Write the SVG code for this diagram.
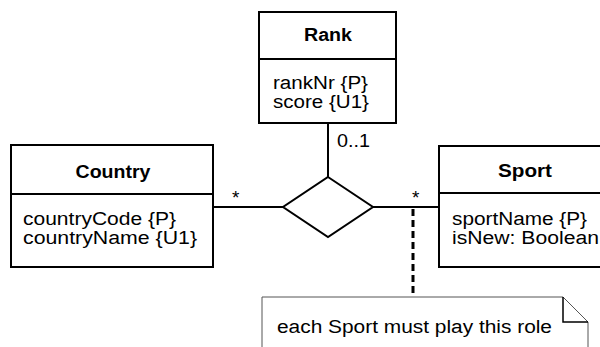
<svg xmlns="http://www.w3.org/2000/svg" width="600" height="347" viewBox="0 0 600 347">
<style>
.box{fill:#fff;stroke:#000;stroke-width:2}
.ln{stroke:#000;stroke-width:2;fill:none}
text{font-family:"Liberation Sans",Arial,sans-serif;font-size:18px;fill:#000}
.t{font-weight:bold;text-anchor:middle}
.m{font-size:19px}
</style>
<rect width="600" height="347" fill="#fff"/>
<g id="connectors">
<line class="ln" x1="328" y1="123" x2="328" y2="177"/>
<line class="ln" x1="213" y1="207" x2="283" y2="207"/>
<line class="ln" x1="373" y1="207" x2="439" y2="207"/>
<line x1="413" y1="209" x2="413" y2="297" stroke="#000" stroke-width="3" stroke-dasharray="7,4"/>
<text x="337" y="147" textLength="33" lengthAdjust="spacingAndGlyphs">0..1</text>
<text class="m" x="232" y="204">*</text>
<text class="m" x="412" y="204">*</text>
</g>
<g id="rank">
<rect class="box" x="259" y="12" width="137" height="111"/>
<line class="ln" x1="259" y1="59" x2="396" y2="59"/>
<text class="t" x="328" y="41" textLength="48" lengthAdjust="spacingAndGlyphs">Rank</text>
<text x="273" y="89" textLength="95" lengthAdjust="spacingAndGlyphs">rankNr {P}</text>
<text x="273" y="108" textLength="96" lengthAdjust="spacingAndGlyphs">score {U1}</text>
</g>
<g id="country">
<rect class="box" x="11" y="145" width="202" height="122"/>
<line class="ln" x1="11" y1="194" x2="213" y2="194"/>
<text class="t" x="113" y="178" textLength="75" lengthAdjust="spacingAndGlyphs">Country</text>
<text x="23" y="225" textLength="153" lengthAdjust="spacingAndGlyphs">countryCode {P}</text>
<text x="23" y="244" textLength="174" lengthAdjust="spacingAndGlyphs">countryName {U1}</text>
</g>
<g id="sport">
<rect class="box" x="439" y="146" width="200" height="121"/>
<line class="ln" x1="439" y1="193" x2="600" y2="193"/>
<text class="t" x="525" y="177" textLength="54" lengthAdjust="spacingAndGlyphs">Sport</text>
<text x="452" y="225" textLength="135" lengthAdjust="spacingAndGlyphs">sportName {P}</text>
<text x="452" y="244" textLength="147" lengthAdjust="spacingAndGlyphs">isNew: Boolean</text>
</g>
<g id="relationship">
<polygon class="box" points="328,177 373,207 328,237 283,207"/>
</g>
<g id="note">
<path d="M262,350 V297 H563 L588,322 V350" fill="#fff" stroke="#555" stroke-width="1"/>
<path d="M563,297 V322 H588" fill="none" stroke="#000" stroke-width="1.5"/>
<text x="277" y="333" textLength="275" lengthAdjust="spacingAndGlyphs">each Sport must play this role</text>
</g>
</svg>
